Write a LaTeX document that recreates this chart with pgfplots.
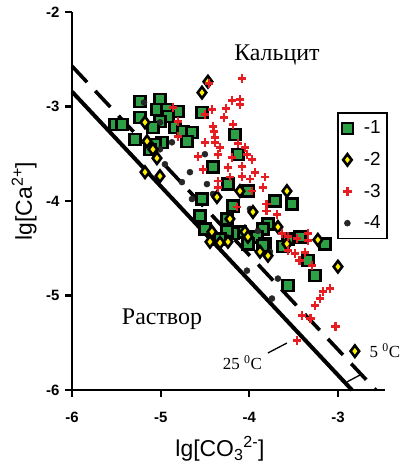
\documentclass[border=0pt]{standalone}
\usepackage{pgfplots}
\pgfplotsset{compat=1.18}
\usepackage{pgfplotstable}
\usepackage{fontspec}
\setmainfont{Liberation Serif}
\newfontfamily\arial{Liberation Sans}
\definecolor{sqgreen}{RGB}{45,160,70}
\definecolor{dyellow}{RGB}{255,240,0}
\definecolor{pred}{RGB}{230,30,35}

\pgfplotstableread{
x y
-5.515 -3.19
-5.436 -3.19
-5.233 -2.947
-5.008 -2.926
-5.233 -3.116
-5.042 -3.032
-4.929 -3.032
-4.805 -3.053
-4.918 -3.105
-5.008 -3.158
-5.290 -3.347
-5.087 -3.221
-4.839 -3.221
-4.749 -3.263
-4.647 -3.274
-4.985 -3.379
-4.703 -3.368
-5.064 -3.400
-5.121 -3.453
-4.534 -3.063
-4.162 -3.295
-4.129 -3.505
-4.410 -3.642
-4.241 -3.821
-4.016 -3.895
-4.534 -3.979
-4.185 -4.053
-4.557 -4.158
-4.253 -4.189
-4.501 -4.295
-3.711 -4.000
-3.520 -4.032
-3.790 -4.242
-3.847 -4.295
-3.914 -4.379
-3.824 -4.453
-4.106 -4.326
-4.185 -4.347
-4.253 -4.316
-3.430 -4.379
-3.565 -4.400
-3.148 -4.453
-3.847 -4.474
-3.621 -4.484
-3.339 -4.632
-3.260 -4.789
-3.565 -4.895
-4.331 -4.400
-4.016 -4.453
}\seriesA

\pgfplotstableread{
x y
-4.467 -2.737
-4.534 -2.853
-5.177 -3.168
-5.154 -3.368
-5.087 -3.453
-5.042 -3.547
-5.008 -3.737
-5.177 -3.695
-4.365 -3.958
-4.106 -3.895
-3.576 -3.895
-4.219 -4.189
-3.959 -4.116
-4.422 -4.326
-4.444 -4.432
-4.331 -4.442
-4.241 -4.432
-4.050 -4.326
-4.016 -4.379
-3.678 -4.274
-3.227 -4.411
-3.576 -4.453
-3.880 -4.537
-3.790 -4.579
-3.001 -4.695
-2.810 -5.589
}\seriesB

\pgfplotstableread{
x y
-4.083 -2.705
-4.455 -2.758
-4.196 -2.937
-4.106 -2.926
-4.106 -2.979
-4.422 -3.032
-4.264 -3.021
-4.861 -3.011
-4.501 -3.084
-4.286 -3.116
-4.805 -3.158
-4.185 -3.189
-4.410 -3.211
-4.399 -3.263
-4.805 -3.316
-4.388 -3.326
-4.388 -3.379
-4.501 -3.379
-4.129 -3.389
-4.331 -3.432
-4.050 -3.432
-4.354 -3.505
-4.580 -3.526
-4.196 -3.537
-3.971 -3.558
-4.027 -3.505
-4.241 -3.642
-4.083 -3.632
-3.937 -3.695
-4.523 -3.663
-4.219 -3.747
-4.083 -3.737
-3.993 -3.768
-3.824 -3.747
-4.354 -3.789
-4.354 -3.853
-3.847 -3.853
-3.971 -3.895
-4.140 -4.063
-3.802 -4.032
-3.802 -4.105
-3.689 -4.147
-3.632 -4.347
-3.565 -4.379
-3.463 -4.400
-3.339 -4.347
-3.339 -4.421
-3.565 -4.526
-3.486 -4.558
-3.373 -4.547
-3.430 -4.632
-3.294 -4.684
-3.091 -4.926
-3.170 -4.958
-3.204 -5.032
-3.260 -5.105
-3.407 -5.211
-3.306 -5.242
-3.024 -5.326
-3.463 -5.474
}\seriesC

\pgfplotstableread{
x y
-5.188 -2.958
-5.008 -3.168
-4.873 -3.379
-5.008 -3.453
-4.501 -3.505
-4.670 -3.695
-4.952 -3.611
-4.760 -3.800
-4.478 -3.821
-4.410 -3.926
-4.647 -3.979
-3.993 -4.084
-3.903 -4.316
-3.768 -4.537
-4.027 -4.737
-3.678 -4.821
-3.745 -5.032
}\seriesD

\tikzset{
  sA/.style={only marks, mark=square*, mark size=5.5bp, mark options={fill=sqgreen, draw=black, line width=2.4bp}},
  sB/.style={only marks, mark=diamond*, mark size=5.7bp, mark options={fill=dyellow, draw=black, line width=2.6bp}},
  sC/.style={only marks, mark=+, mark size=4.4bp, mark options={draw=pred, line width=2.8bp}},
  sD/.style={only marks, mark=*, mark size=3bp, mark options={fill=black!85, draw=black!85, line width=0.5bp}},
}

\begin{document}
\begin{tikzpicture}
\begin{axis}[
  scale only axis, width=313bp, height=378bp,
  xmin=-6, xmax=-2.47, ymin=-6, ymax=-2,
  axis lines=left,
  axis line style={-, line width=2.4bp},
  xtick={-6,-5,-4,-3}, xticklabels={-6,-5,-4,-3},
  ytick={-6,-5,-4,-3,-2}, yticklabels={-6,-5,-4,-3,-2},
  tick align=outside, major tick length=7bp,
  tick style={line width=2.2bp, black},
  ticklabel style={font=\arial\bfseries\fontsize{15}{15}\selectfont},
  xticklabel style={yshift=-12bp},
  yticklabel style={xshift=-2bp},
  xlabel={lg[CO\textsubscript{3}\textsuperscript{2-}]},
  ylabel={lg[Ca\textsuperscript{2+}]},
  label style={font=\arial\fontsize{23}{23}\selectfont},
  xlabel style={at={(axis description cs:0.473,-0.156)}, anchor=center},
  ylabel style={at={(axis description cs:-0.153,0.5)}, anchor=center},
  clip=false,
  legend style={at={(axis description cs:0.847,0.735)}, anchor=north west,
    draw=black, line width=1.6bp, fill=white,
    font=\arial\fontsize{19}{19}\selectfont,
    row sep=13bp, inner xsep=4bp, inner ysep=6bp,
    nodes={inner xsep=2bp, inner ysep=2bp},
    /tikz/every odd column/.append style={column sep=9bp}},
  legend cell align=left,
]
\addlegendimage{sA}\addlegendentry{-1}
\addlegendimage{sB}\addlegendentry{-2}
\addlegendimage{sC}\addlegendentry{-3}
\addlegendimage{sD}\addlegendentry{-4}

% equilibrium lines
\addplot[forget plot, black, line width=4bp] coordinates {(-6,-2.843) (-2.843,-6)};
\addplot[forget plot, black, line width=3.6bp, dash pattern=on 22bp off 12bp] coordinates {(-6,-2.573) (-2.573,-6)};
\addplot[forget plot, black, line width=1.3bp] coordinates {(-2.900,-5.915) (-2.731,-5.831)};
\addplot[forget plot, black, line width=1.3bp] coordinates {(-3.790,-5.608) (-3.576,-5.503)};

\addplot[forget plot, sA] table[x=x,y=y] {\seriesA};
\addplot[forget plot, sD] table[x=x,y=y] {\seriesD};
\addplot[forget plot, sB] table[x=x,y=y] {\seriesB};
\addplot[forget plot, sC] table[x=x,y=y] {\seriesC};

\node[anchor=base, font=\fontsize{24}{24}\selectfont] at (axis cs:-3.689,-2.508) {Кальцит};
\node[anchor=base, font=\fontsize{24}{24}\selectfont] at (axis cs:-4.985,-5.312) {Раствор};
\node[anchor=base, font=\fontsize{17}{17}\selectfont] at (axis cs:-4.078,-5.788) {25 \textsuperscript{0}C};
\node[anchor=base, font=\fontsize{17}{17}\selectfont] at (axis cs:-2.471,-5.661) {5 \textsuperscript{0}C};
\end{axis}
\pgfresetboundingbox
\path[use as bounding box] (-72bp,-75bp) rectangle (329bp,390bp);
\end{tikzpicture}
\end{document}
